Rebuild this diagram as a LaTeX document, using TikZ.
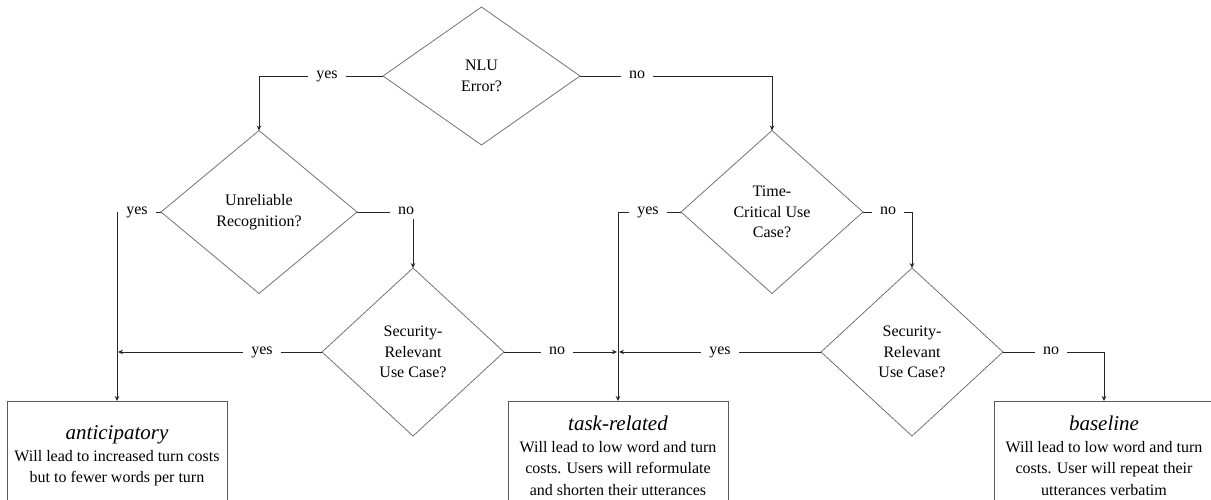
\documentclass[tikz,border=0pt]{standalone}
\usepackage{fontspec}
\setmainfont{Liberation Serif}
\usetikzlibrary{shapes.geometric,arrows.meta}
\begin{document}
\begin{tikzpicture}[x=1pt,y=-1pt,
  dec/.style={diamond, draw=black!55, line width=0.8pt, inner sep=0pt, outer sep=0pt,
    align=center, font=\fontsize{16}{20.5}\selectfont},
  outbox/.style={rectangle, draw=black!65, line width=0.8pt, minimum width=220pt,
    minimum height=110pt, anchor=north, align=center, inner sep=0pt, outer sep=0pt,
    font=\fontsize{16}{21.5}\selectfont},
  conn/.style={draw=black!85, line width=0.8pt},
  arr/.style={conn, -{Stealth[length=5pt,width=4.5pt]}},
  lab/.style={fill=white, inner xsep=8pt, inner ysep=2pt, text height=1.5ex,
    text depth=0.5ex, font=\fontsize{16}{19}\selectfont},
  ttl/.style={font=\fontsize{21}{24}\selectfont\itshape}
]
\useasboundingbox (0,0) rectangle (1211,500);
\clip (0,0) rectangle (1211,500);

% decisions
\node[dec, minimum width=197pt, minimum height=138pt] (nlu) at (481.5,76) {NLU\\Error?};
\node[dec, minimum width=196pt, minimum height=163pt] (ur) at (259,212) {Unreliable\\Recognition?};
\node[dec, minimum width=182pt, minimum height=163pt] (tc) at (772,212) {Time-\\Critical Use\\Case?};
\node[dec, minimum width=182pt, minimum height=168pt] (s1) at (413,352) {Security-\\Relevant\\Use Case?};
\node[dec, minimum width=182pt, minimum height=168pt] (s2) at (912,352) {Security-\\Relevant\\Use Case?};

% outcomes
\node[outbox] (b1) at (117,401) {{\fontsize{21}{24}\selectfont\itshape anticipatory}\\Will lead to increased turn costs\\but to fewer words per turn};
\node[outbox] (b2) at (618,401) {{\fontsize{21}{24}\selectfont\itshape task-related}\\Will lead to low word and turn\\costs. Users will reformulate\\and shorten their utterances};
\node[outbox] (b3) at (1104,401) {{\fontsize{21}{24}\selectfont\itshape baseline}\\Will lead to low word and turn\\costs. User will repeat their\\utterances verbatim};

% junctions
\coordinate (j1) at (118,352);
\coordinate (j2) at (617,352);
\coordinate (j3) at (619,352);

% connectors
\draw[arr] (nlu.west) -| (ur.north);
\draw[arr] (nlu.east) -| (tc.north);
\draw[arr] (ur.west) -| (b1.north);
\draw[arr] (ur.east) -| (s1.north);
\draw[arr] (tc.west) -| (b2.north);
\draw[arr] (tc.east) -| (s2.north);
\draw[arr] (s1.west) -- (j1);
\draw[arr] (s1.east) -- (j2);
\draw[arr] (s2.west) -- (j3);
\draw[arr] (s2.east) -| (b3.north);

% labels
\node[lab] (l1) at (327,76) {yes};
\node[lab] (l2) at (637,76) {no};
\node[lab] (l3) at (137,212) {yes};
\node[lab] (l4) at (406,212) {no};
\node[lab] (l5) at (648,212) {yes};
\node[lab] (l6) at (888,212) {no};
\node[lab] (l7) at (262,352) {yes};
\node[lab] (l8) at (557,352) {no};
\node[lab] (l9) at (720,352) {yes};
\node[lab] (l10) at (1051,352) {no};
\end{tikzpicture}
\end{document}
